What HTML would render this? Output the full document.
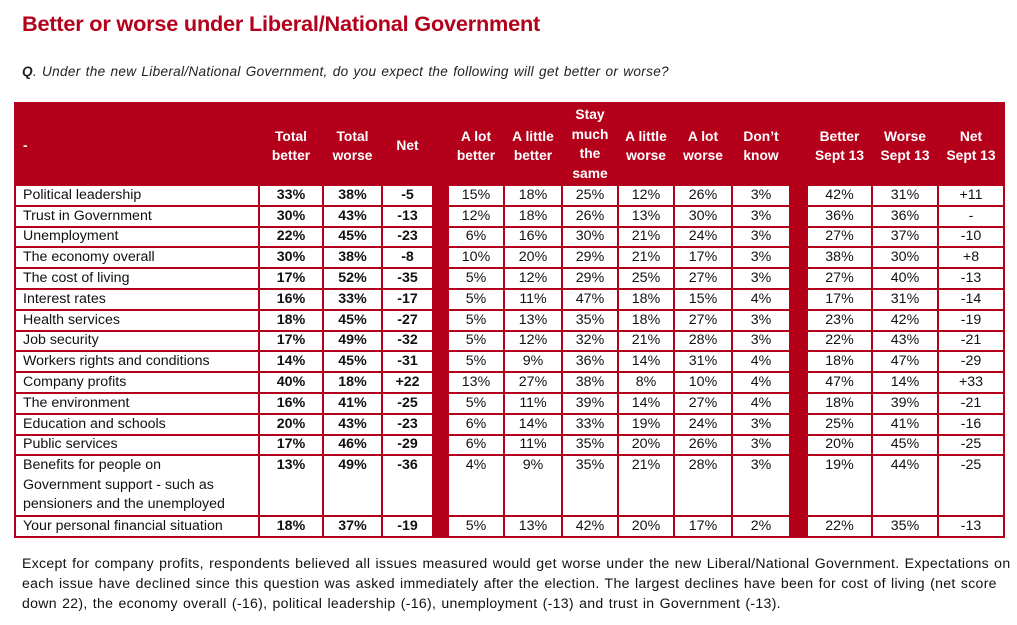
<!DOCTYPE html>
<html><head><meta charset="utf-8">
<style>
body{margin:0;width:1017px;height:625px;background:#fff;font-family:"Liberation Sans",sans-serif;position:relative;overflow:hidden}
#title{position:absolute;left:22px;top:11px;font-size:21.7px;font-weight:bold;color:#b3001b;margin:0;letter-spacing:-0.2px}
#q{position:absolute;left:22px;top:64px;font-size:13.6px;font-style:italic;color:#222;letter-spacing:0.3px;word-spacing:1px}
#tbl{position:absolute;left:14px;top:102px;border-collapse:collapse;table-layout:fixed;width:989px;background:#b5001b;font-size:14.2px;color:#111}
#tbl td,#tbl th{border:2px solid #b5001b;padding:0 1px;overflow:hidden;white-space:nowrap}
#tbl th{color:#fff;font-weight:bold;text-align:center;vertical-align:middle;line-height:19.5px;font-size:13.8px;padding-top:4px}
#tbl td{background:#fff;text-align:center;height:17px;line-height:17px}
#tbl td.lbl{text-align:left;padding-left:7px}
#tbl td.b{font-weight:bold}
#tbl td.gap{background:#b5001b}
#tbl tr.tall td{vertical-align:top;line-height:19.5px}
#foot{position:absolute;left:22px;top:553px;width:995px;font-size:14.1px;line-height:20px;color:#111;letter-spacing:0.3px;word-spacing:1px}
</style></head><body>
<h1 id="title">Better or worse under Liberal/National Government</h1>
<div id="q"><b>Q</b>. Under the new Liberal/National Government, do you expect the following will get better or worse?</div>
<table id="tbl">
<colgroup><col style="width:244px"><col style="width:64px"><col style="width:59px"><col style="width:51px"><col style="width:15px"><col style="width:56px"><col style="width:58px"><col style="width:56px"><col style="width:56px"><col style="width:58px"><col style="width:58px"><col style="width:17px"><col style="width:65px"><col style="width:66px"><col style="width:66px"></colgroup>
<thead><tr style="height:82px">
<th style="text-align:left;padding-left:7px">-</th>
<th>Total<br>better</th>
<th>Total<br>worse</th>
<th>Net</th>
<th></th>
<th>A lot<br>better</th>
<th>A little<br>better</th>
<th style="padding-top:0">Stay<br>much<br>the<br>same</th>
<th>A little<br>worse</th>
<th>A lot<br>worse</th>
<th>Don’t<br>know</th>
<th></th>
<th>Better<br>Sept 13</th>
<th>Worse<br>Sept 13</th>
<th>Net<br>Sept 13</th>
</tr></thead>
<tbody id="tb"></tbody>
</table>
<div id="foot">Except for company profits, respondents believed all issues measured would get worse under the new Liberal/National Government. Expectations on<br>each issue have declined since this question was asked immediately after the election. The largest declines have been for cost of living (net score<br>down 22), the economy overall (-16), political leadership (-16), unemployment (-13) and trust in Government (-13).</div>
<script>
const items=["Political leadership","Trust in Government","Unemployment","The economy overall","The cost of living","Interest rates","Health services","Job security","Workers rights and conditions","Company profits","The environment","Education and schools","Public services","Benefits for people on\nGovernment support - such as\npensioners and the unemployed","Your personal financial situation"];
const totalBetter=["33%","30%","22%","30%","17%","16%","18%","17%","14%","40%","16%","20%","17%","13%","18%"];
const totalWorse=["38%","43%","45%","38%","52%","33%","45%","49%","45%","18%","41%","43%","46%","49%","37%"];
const net=["-5","-13","-23","-8","-35","-17","-27","-32","-31","+22","-25","-23","-29","-36","-19"];
const aLotBetter=["15%","12%","6%","10%","5%","5%","5%","5%","5%","13%","5%","6%","6%","4%","5%"];
const aLittleBetter=["18%","18%","16%","20%","12%","11%","13%","12%","9%","27%","11%","14%","11%","9%","13%"];
const staySame=["25%","26%","30%","29%","29%","47%","35%","32%","36%","38%","39%","33%","35%","35%","42%"];
const aLittleWorse=["12%","13%","21%","21%","25%","18%","18%","21%","14%","8%","14%","19%","20%","21%","20%"];
const aLotWorse=["26%","30%","24%","17%","27%","15%","27%","28%","31%","10%","27%","24%","26%","28%","17%"];
const dontKnow=["3%","3%","3%","3%","3%","4%","3%","3%","4%","4%","4%","3%","3%","3%","2%"];
const betterSept=["42%","36%","27%","38%","27%","17%","23%","22%","18%","47%","18%","25%","20%","19%","22%"];
const worseSept=["31%","36%","37%","30%","40%","31%","42%","43%","47%","14%","39%","41%","45%","44%","35%"];
const netSept=["+11","-","-10","+8","-13","-14","-19","-21","-29","+33","-21","-16","-25","-25","-13"];
const tb=document.getElementById('tb');
items.forEach((it,i)=>{
  const tr=document.createElement('tr');
  
  
  if(it.indexOf('\n')>=0){tr.className='tall';tr.style.height='60px';}else tr.style.height='20.8px';
  const cells=[[it,'lbl'],[totalBetter[i],'b'],[totalWorse[i],'b'],[net[i],'b'],['','gap'],[aLotBetter[i],''],[aLittleBetter[i],''],[staySame[i],''],[aLittleWorse[i],''],[aLotWorse[i],''],[dontKnow[i],''],['','gap'],[betterSept[i],''],[worseSept[i],''],[netSept[i],'']];
  cells.forEach(c=>{
    const td=document.createElement('td');
    
    
    td.textContent=c[0];if(c[1])td.className=c[1];
    if(c[1]==='lbl')td.style.whiteSpace='pre';
    tr.appendChild(td);
  });
  tb.appendChild(tr);
});
</script>
</body></html>
